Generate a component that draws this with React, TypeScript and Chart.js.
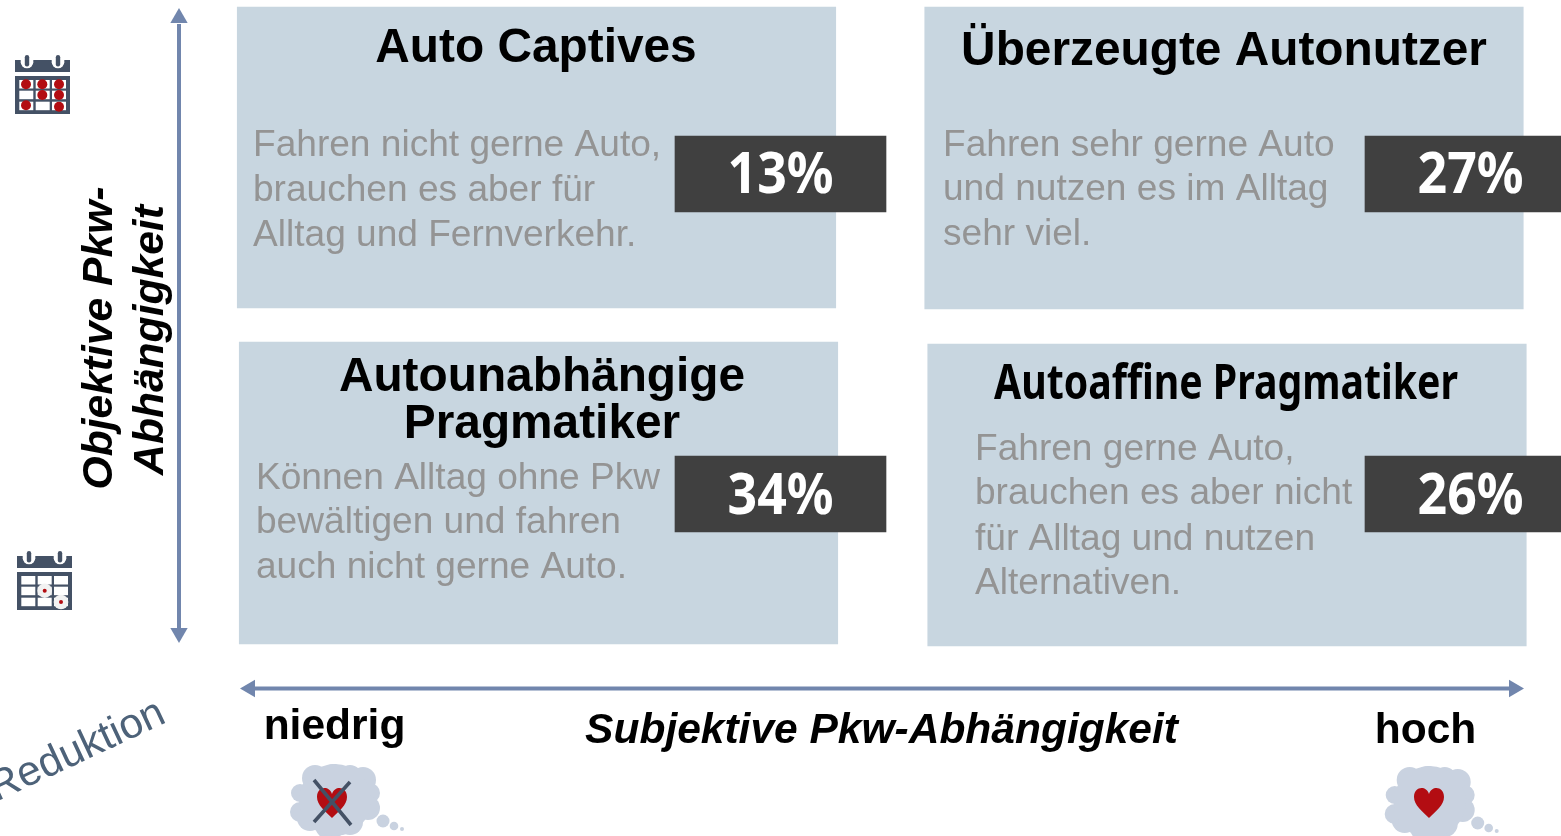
import React, { useEffect, useRef } from "react";
import { Chart, registerables } from "chart.js";

Chart.register(...registerables);

// ---- content ----
const segments = ["Auto Captives", "Überzeugte Autonutzer", "Autounabhängige Pragmatiker", "Autoaffine Pragmatiker"];
const shares = [13, 27, 34, 26];
const descriptions = [
  ["Fahren nicht gerne Auto,", "brauchen es aber für", "Alltag und Fernverkehr."],
  ["Fahren sehr gerne Auto", "und nutzen es im Alltag", "sehr viel."],
  ["Können Alltag ohne Pkw", "bewältigen und fahren", "auch nicht gerne Auto."],
  ["Fahren gerne Auto,", "brauchen es aber nicht", "für Alltag und nutzen", "Alternativen."],
];
const yAxisTitle = ["Objektive Pkw-", "Abhängigkeit"];
const xAxisTitle = "Subjektive Pkw-Abhängigkeit";
const xLow = "niedrig";
const xHigh = "hoch";
const rotatedNote = "Reduktion";

// ---- layout ----
const W = 1561;
const H = 836;
const panelX = [536.5, 1224, 538.5, 1227];
const panelY = [[7, 308], [7, 309], [342, 644], [344, 646]];
const boxX = [780.5, 1470.5, 780.5, 1470.5];
const boxY = [[136, 212], [136, 212], [456, 532], [456, 532]];
const arrowV = [{ x: 179, y: 24 }, { x: 179, y: 628 }];
const arrowH = [{ x: 255, y: 688.5 }, { x: 1509, y: 688.5 }];
const arrowTips = [
  { x: 179, y: 18, r: 0 },
  { x: 179, y: 633, r: 180 },
  { x: 250, y: 688.5, r: 270 },
  { x: 1514, y: 688.5, r: 90 },
];
const titleBaselines = [[62], [65], [391, 438], [399]];
const titleX = [536, 1224, 542, 1226];
const bodyX = [253, 943, 256, 975];
const bodyBaselines = [[156, 201, 246], [156, 200, 245], [489, 533, 578], [460, 504, 550, 594]];
const shareBaselines = [193, 193, 514, 514];

const cloudLobes = [
  [45, 28, 13], [63, 27, 13], [80, 27, 12], [93, 30, 13], [100, 43, 10], [98, 58, 12],
  [80, 72, 13], [60, 75, 15], [40, 68, 13], [30, 62, 10], [30, 43, 9], [65, 50, 36],
];
const cloudDots = [[113, 71, 6.5], [124, 76, 4.3], [132, 79, 2]];

const BLUE_PANEL = "#c8d6e0";
const ARROW = "#7186ad";
const DARK_ICON = "#445165";
const RED = "#b30d12";
const CLOUD = "#c9d2e0";
const GREY = "#949494";
const SANS = '"Liberation Sans", Arial, sans-serif';
const COND = '"Noto Sans", sans-serif';

function heart(c: CanvasRenderingContext2D, cx: number, cy: number, s: number) {
  c.fillStyle = RED;
  c.beginPath();
  c.moveTo(cx, cy + s);
  c.bezierCurveTo(cx - s * 0.45, cy + s * 0.55, cx - s, cy + s * 0.15, cx - s, cy - s * 0.4);
  c.bezierCurveTo(cx - s, cy - s * 1.1, cx - s * 0.2, cy - s * 1.2, cx, cy - s * 0.6);
  c.bezierCurveTo(cx + s * 0.2, cy - s * 1.2, cx + s, cy - s * 1.1, cx + s, cy - s * 0.4);
  c.bezierCurveTo(cx + s, cy + s * 0.15, cx + s * 0.45, cy + s * 0.55, cx, cy + s);
  c.fill();
}

function cloud(c: CanvasRenderingContext2D, ox: number, oy: number) {
  c.fillStyle = CLOUD;
  for (const [x, y, r] of [...cloudLobes, ...cloudDots]) {
    c.beginPath();
    c.arc(ox + x, oy + y, r, 0, Math.PI * 2);
    c.fill();
  }
}

function calendar(c: CanvasRenderingContext2D, x: number, y: number, h2: number) {
  c.fillStyle = DARK_ICON;
  c.fillRect(x, y + 5, 55, 12);
  c.fillRect(x, y + 21, 55, h2);
  c.fillStyle = "#fff";
  for (const cx of [12, 43]) {
    c.fillRect(x + cx - 6.3, y + 4, 12.6, 3.5);
    c.beginPath();
    c.arc(x + cx, y + 7, 6.3, 0, Math.PI);
    c.fill();
  }
  c.fillStyle = DARK_ICON;
  for (const cx of [12, 43]) {
    c.beginPath();
    c.roundRect(x + cx - 2.2, y, 4.4, 11.5, 2.2);
    c.fill();
  }
  c.fillStyle = "#fff";
  for (const col of [4.3, 20.7, 37]) for (const row of [25, 35.7, 46.7]) c.fillRect(x + col, y + row, 14, 8.5);
}

const artwork = {
  id: "artwork",
  afterDatasetsDraw(chart: any) {
    const c: CanvasRenderingContext2D = chart.ctx;
    const sx = chart.scales.x;
    const sy = chart.scales.y;
    const px = (v: number) => sx.getPixelForValue(v);
    const py = (v: number) => sy.getPixelForValue(v);
    c.save();
    c.textBaseline = "alphabetic";

    // titles
    c.fillStyle = "#000";
    c.textAlign = "center";
    c.font = `bold 47.8px ${SANS}`;
    c.fillText(segments[0], px(titleX[0]), py(titleBaselines[0][0]));
    c.fillText(segments[1], px(titleX[1]), py(titleBaselines[1][0]));
    c.fillText("Autounabhängige", px(titleX[2]), py(titleBaselines[2][0]));
    c.fillText("Pragmatiker", px(titleX[2]), py(titleBaselines[2][1]));
    c.font = `bold 49px ${COND}`;
    c.fillText(segments[3], px(titleX[3]), py(titleBaselines[3][0]), 464);

    // descriptions
    c.textAlign = "left";
    c.fillStyle = GREY;
    c.font = `37.1px ${SANS}`;
    descriptions.forEach((lines, i) =>
      lines.forEach((t, j) => c.fillText(t, px(bodyX[i]), py(bodyBaselines[i][j])))
    );

    // shares
    c.textAlign = "center";
    c.fillStyle = "#fff";
    c.font = `bold 58px ${COND}`;
    shares.forEach((v, i) => c.fillText(`${v}%`, px(boxX[i]), py(shareBaselines[i]), 106));

    // axis texts
    c.fillStyle = "#000";
    c.font = `italic bold 42.5px ${SANS}`;
    c.fillText(xAxisTitle, px(881.5), py(743));
    c.font = `bold 42.5px ${SANS}`;
    c.fillText(xLow, px(334.5), py(739));
    c.fillText(xHigh, px(1425.5), py(743));

    c.font = `italic bold 42.6px ${SANS}`;
    yAxisTitle.forEach((t, i) => {
      c.save();
      c.translate(px(i === 0 ? 112 : 163), py(i === 0 ? 338 : 340));
      c.rotate(-Math.PI / 2);
      c.fillText(t, 0, 0);
      c.restore();
    });

    c.save();
    c.translate(px(0), py(800));
    c.rotate((-25 * Math.PI) / 180);
    c.textAlign = "left";
    c.fillStyle = "#4d6279";
    c.font = `42px ${SANS}`;
    c.fillText(rotatedNote, -4, 0);
    c.restore();

    // calendars
    calendar(c, px(15), py(55), 38);
    c.fillStyle = RED;
    for (const [x, y] of [[26, 84.3], [42.3, 84.3], [59, 84.3], [42.3, 95], [59, 95], [26, 105.3], [59, 106.7]]) {
      c.beginPath();
      c.arc(px(x), py(y), 5, 0, Math.PI * 2);
      c.fill();
    }
    calendar(c, px(17), py(551), 38);
    for (const [x, y] of [[44.7, 590.7], [61, 602]]) {
      c.fillStyle = "#f2f2f2";
      c.beginPath();
      c.arc(px(x), py(y), 7.3, 0, Math.PI * 2);
      c.fill();
      c.fillStyle = RED;
      c.beginPath();
      c.arc(px(x), py(y), 2, 0, Math.PI * 2);
      c.fill();
    }

    // thought clouds
    cloud(c, px(270), py(750));
    heart(c, px(332), py(803), 15);
    c.strokeStyle = DARK_ICON;
    c.lineWidth = 3.6;
    c.beginPath();
    c.moveTo(px(314), py(780));
    c.lineTo(px(351), py(825));
    c.moveTo(px(350), py(782));
    c.lineTo(px(314), py(822));
    c.stroke();
    cloud(c, px(1364.7), py(752));
    heart(c, px(1429), py(803), 15);
    c.restore();
  },
};

export default function App() {
  const ref = useRef<HTMLCanvasElement>(null);
  useEffect(() => {
    document.body.style.margin = "0";
    document.body.style.overflow = "hidden";
    const chart = new Chart(ref.current!, {
      type: "bar",
      data: {
        datasets: [
          {
            label: "Segmente",
            data: panelX.map((x, i) => ({ x, y: panelY[i] })),
            backgroundColor: BLUE_PANEL,
            barThickness: 598.5,
            grouped: false,
            order: 3,
          },
          {
            label: "Anteil",
            data: boxX.map((x, i) => ({ x, y: boxY[i] })),
            backgroundColor: "#404040",
            barThickness: 211,
            grouped: false,
            order: 2,
          },
          {
            type: "line",
            label: "Objektive Achse",
            data: arrowV,
            borderColor: ARROW,
            borderWidth: 4,
            pointRadius: 0,
            order: 1,
          },
          {
            type: "line",
            label: "Subjektive Achse",
            data: arrowH,
            borderColor: ARROW,
            borderWidth: 4,
            pointRadius: 0,
            order: 1,
          },
          {
            type: "scatter",
            label: "Pfeilspitzen",
            data: arrowTips,
            backgroundColor: ARROW,
            borderWidth: 0,
            pointStyle: "triangle",
            pointRadius: 10,
            rotation: arrowTips.map((t) => t.r),
            order: 0,
          },
        ] as any,
      },
      options: {
        responsive: false,
        animation: false,
        layout: { padding: 0, autoPadding: false },
        plugins: { legend: { display: false }, tooltip: { enabled: false }, title: { display: false } },
        scales: {
          x: { type: "linear", min: 0, max: W, display: false, offset: false, grid: { display: false } },
          y: { type: "linear", min: 0, max: H, reverse: true, display: false, grid: { display: false } },
        },
      } as any,
      plugins: [artwork],
    });
    return () => chart.destroy();
  }, []);
  return (
    <div style={{ position: "fixed", left: 0, top: 0, width: W, height: H, background: "#fff" }}>
      <canvas ref={ref} width={W} height={H} style={{ display: "block" }} />
    </div>
  );
}
